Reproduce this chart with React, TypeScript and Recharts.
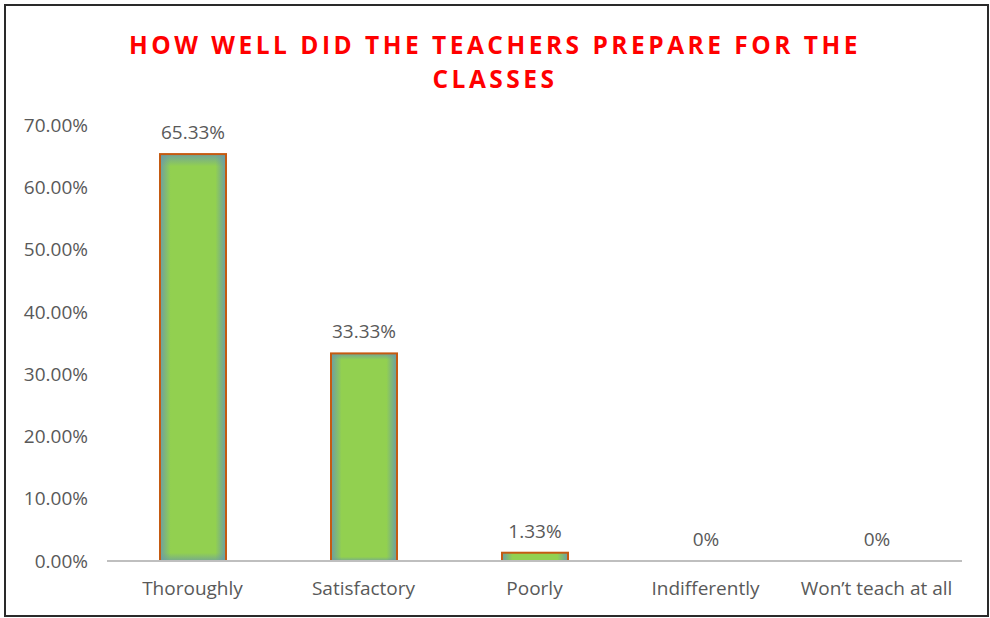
import { BarChart, Bar, XAxis, YAxis, LabelList } from "recharts";

const categories = ["Thoroughly", "Satisfactory", "Poorly", "Indifferently", "Won’t teach at all"];
const shares = [0.6533, 0.3333, 0.0133, 0, 0];
const labels = ["65.33%", "33.33%", "1.33%", "0%", "0%"];
const yTicks = [0, 0.1, 0.2, 0.3, 0.4, 0.5, 0.6, 0.7];

const data = categories.map((name, i) => ({ name, value: shares[i], label: labels[i] }));

const FONT = "'Open Sans', 'DejaVu Sans', sans-serif";
const GREY = "#595959";

// excel style bar: green fill with a soft bluish inner glow and orange outline
function GlowBar(props: any) {
  const { x, y, width, height } = props;
  if (width == null || height == null || height <= 0) return <g />;
  return (
    <g>
      <rect x={x} y={y} width={width} height={height} fill="#92D050" />
      <rect x={x} y={y} width={width} height={height} fill="url(#glowH)" />
      <rect x={x} y={y} width={width} height={height} fill="url(#glowV)" />
      <rect
        x={x}
        y={y}
        width={width}
        height={height}
        fill="none"
        stroke="#C55A11"
        strokeWidth={2}
      />
    </g>
  );
}

export default function App() {
  return (
    <div
      style={{
        position: "absolute",
        left: 0,
        top: 0,
        width: 990,
        height: 618,
        background: "#fff",
      }}
    >
      <div
        style={{
          position: "absolute",
          left: 4,
          top: 4,
          width: 981,
          height: 609,
          border: "2px solid #2a2a2a",
        }}
      />
      <div
        style={{
          position: "absolute",
          left: 0,
          top: 28,
          width: 990,
          textAlign: "center",
          color: "#FF0000",
          fontFamily: FONT,
          fontWeight: 700,
          fontSize: 24.5,
          letterSpacing: 3.5,
          lineHeight: "34px",
        }}
      >
        HOW WELL DID THE TEACHERS PREPARE FOR THE
        <br />
        CLASSES
      </div>
      <div style={{ position: "absolute", left: 0, top: 0 }}>
        <BarChart
          width={990}
          height={618}
          data={data}
          margin={{ top: 125, right: 28, bottom: 17, left: 0 }}
          barSize={66}
        >
          <defs>
            <linearGradient id="glowH" x1="0" y1="0" x2="1" y2="0">
              <stop offset="0%" stopColor="#6A9AA8" stopOpacity={0.95} />
              <stop offset="16%" stopColor="#6A9AA8" stopOpacity={0} />
              <stop offset="84%" stopColor="#6A9AA8" stopOpacity={0} />
              <stop offset="100%" stopColor="#6A9AA8" stopOpacity={0.95} />
            </linearGradient>
            <linearGradient id="glowV" x1="0" y1="0" x2="0" y2="1">
              <stop offset="0%" stopColor="#6A9AA8" stopOpacity={0.85} />
              <stop offset="3%" stopColor="#6A9AA8" stopOpacity={0} />
              <stop offset="98%" stopColor="#6A9AA8" stopOpacity={0} />
              <stop offset="100%" stopColor="#6A9AA8" stopOpacity={0.7} />
            </linearGradient>
          </defs>
          <XAxis
            dataKey="name"
            height={40}
            axisLine={{ stroke: "#BFBFBF", strokeWidth: 2 }}
            tickLine={false}
            tickSize={6}
            tickMargin={15}
            interval={0}
            tick={{ fill: GREY, fontSize: 19, fontFamily: FONT }}
          />
          <YAxis
            width={107}
            domain={[0, 0.7]}
            ticks={yTicks}
            axisLine={false}
            tickLine={false}
            tickSize={6}
            tickMargin={13}
            tickFormatter={(v: number) => `${(v * 100).toFixed(2)}%`}
            tick={{ fill: GREY, fontSize: 19, fontFamily: FONT }}
          />
          <Bar dataKey="value" shape={GlowBar} isAnimationActive={false}>
            <LabelList
              dataKey="label"
              position="top"
              offset={15}
              fill={GREY}
              fontSize={19}
              fontFamily={FONT}
            />
          </Bar>
        </BarChart>
      </div>
    </div>
  );
}
